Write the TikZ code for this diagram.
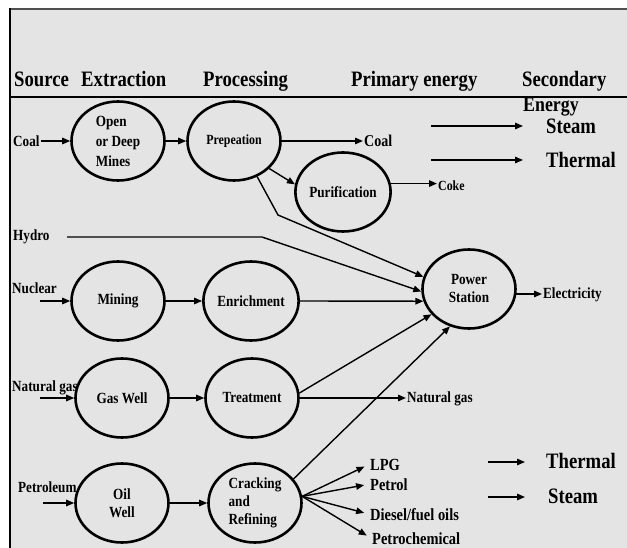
\documentclass[tikz,border=0pt]{standalone}
\usepackage{fontspec}
\setmainfont{Liberation Serif}[FakeStretch=0.85]
\usetikzlibrary{shapes.geometric,arrows.meta}
\definecolor{bggray}{RGB}{228,228,228}
\definecolor{framegray}{RGB}{80,80,80}
\tikzset{
  stage/.style={ellipse, draw, line width=2.6pt, minimum width=93pt, minimum height=79pt,
    inner sep=0pt, font=\bfseries\fontsize{15.5}{18}\selectfont, align=center},
  lbl/.style={inner sep=1pt, anchor=base west, font=\bfseries\fontsize{15.5}{17}\selectfont},
  prod/.style={lbl, font=\bfseries\fontsize{17}{19}\selectfont},
  big/.style={inner sep=0pt, anchor=base west, font=\bfseries\fontsize{22}{24}\selectfont},
  arr/.style={line width=1.4pt, -{Triangle[length=8pt,width=6.5pt]}},
}
\begin{document}
\begin{tikzpicture}[x=1pt,y=-1pt]
\useasboundingbox (0,0) rectangle (627,548);
\fill[white] (0,0) rectangle (627,548);
\fill[bggray] (10,9) rectangle (627,548);
\draw[line width=2pt, draw=framegray] (9,9) -- (627,9);
\draw[line width=2.5pt] (10,8) -- (10,548);
\draw[line width=1.4pt] (10,97) -- (627,97);

% headers
\node[big] (hsrc) at (14,87) {Source};
\node[big] (hext) at (81,87) {Extraction};
\node[big] (hpro) at (203,87) {Processing};
\node[big] (hpri) at (351,87) {Primary energy};
\node[big] (hsec) at (522,87) {Secondary};
\node[big, font=\bfseries\fontsize{21}{23}\selectfont] (hen) at (523,112) {Energy};

% stage ellipses
\node[stage, align=left, font=\bfseries\fontsize{15.5}{20}\selectfont] (open) at (118,141) {Open\\or Deep\\Mines};
\node[stage, font=\bfseries\fontsize{14}{16}\selectfont] (prep) at (234,141) {Prepeation};
\node[stage] (purif) at (343,192) {Purification};
\node[stage] (ps) at (469,289) {Power\\Station};
\node[stage] (mining) at (118,301) {Mining};
\node[stage] (enrich) at (251,301) {Enrichment};
\node[stage] (gas) at (122,398) {Gas Well};
\node[stage] (treat) at (252,398) {Treatment};
\node[stage] (oil) at (122,503) {Oil\\Well};
\node[stage, align=left] (crack) at (255,503) {Cracking\\and\\Refining};

% source labels
\node[lbl] (coalL) at (12,147) {Coal};
\node[lbl] (hydro) at (12,241) {Hydro};
\node[lbl] (nuc) at (11,294) {Nuclear};
\node[lbl] (ngL) at (11,391) {Natural gas};
\node[lbl] (pet) at (17,492) {Petroleum};

% product labels
\node[lbl, font=\bfseries\fontsize{16.5}{18}\selectfont] (coalR) at (363,147) {Coal};
\node[lbl, font=\bfseries\fontsize{14}{16}\selectfont] (coke) at (437,191) {Coke};
\node[lbl] (elec) at (542,299) {Electricity};
\node[lbl] (ngR) at (406,402) {Natural gas};
\node[prod] (lpg) at (369,470) {LPG};
\node[prod] (petrol) at (369,490) {Petrol};
\node[prod] (diesel) at (369,520) {Diesel/fuel oils};
\node[prod] (petchem) at (371,544) {Petrochemical};

% secondary energy labels
\node[big] (steamT) at (546,134) {Steam};
\node[big] (thermT) at (546,168) {Thermal};
\node[big] (thermB) at (546,468) {Thermal};
\node[big] (steamB) at (548,503) {Steam};

% free coordinates
\coordinate (nuc0) at (40,301);
\coordinate (ng0) at (40,398);
\coordinate (pet0) at (43,503);
\coordinate (hy0) at (67,237);
\coordinate (hy1) at (262,237);
\coordinate (bend) at (278,215);
\coordinate (t1s) at (431,126);
\coordinate (t1e) at (523,126);
\coordinate (t2s) at (431,160);
\coordinate (t2e) at (523,160);
\coordinate (b1s) at (488,462);
\coordinate (b1e) at (525,462);
\coordinate (b2s) at (488,497);
\coordinate (b2e) at (525,497);

% connectors
\draw[arr] (coalL.east |- open.west) -- (open.west);
\draw[arr] (open.east) -- (prep.west);
\draw[arr] (prep.east) -- (prep.east -| coalR.west);
\draw[arr] (prep.-38) -- (purif.171);
\draw[arr] (purif.10) -- (purif.10 -| coke.west);
\draw[arr] (prep.-57) -- (bend) -- (ps.165);
\draw[arr] (hy0) -- (hy1) -- (ps.183);
\draw[arr] (nuc0) -- (mining.west);
\draw[arr] (mining.east) -- (enrich.west);
\draw[arr] (enrich.east) -- (ps.195);
\draw[arr] (ps.-6) -- (ps.-6 -| elec.west);
\draw[arr] (ng0) -- (gas.west);
\draw[arr] (gas.east) -- (treat.west);
\draw[arr] (treat.6) -- (ps.214);
\draw[arr] (treat.east) -- (treat.east -| ngR.west);
\draw[arr] (pet0) -- (oil.west);
\draw[arr] (oil.east) -- (crack.west);
\draw[arr] (crack.32) -- (ps.243);
\draw[arr, shorten >=5pt] (crack.8) -- (lpg.west);
\draw[arr, shorten >=5pt] (crack.8) -- (petrol.west);
\draw[arr, shorten >=5pt] (crack.8) -- (diesel.west);
\draw[arr, shorten >=5pt] (crack.8) -- (petchem.west);
\draw[arr] (t1s) -- (t1e);
\draw[arr] (t2s) -- (t2e);
\draw[arr] (b1s) -- (b1e);
\draw[arr] (b2s) -- (b2e);
\end{tikzpicture}
\end{document}
